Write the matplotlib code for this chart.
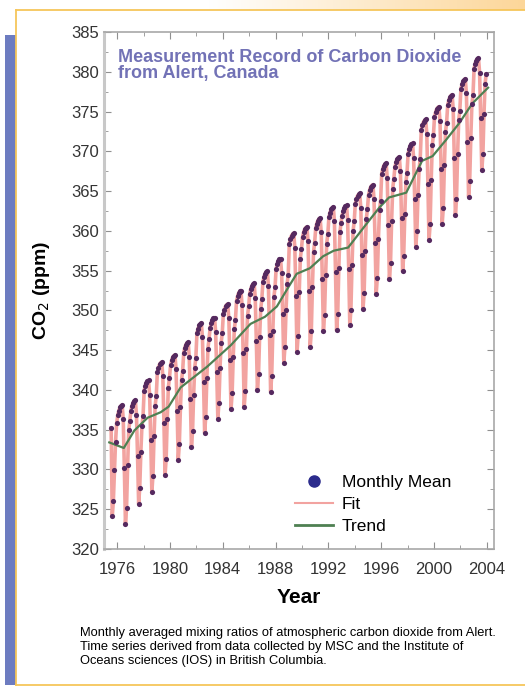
import matplotlib
matplotlib.use("Agg")
import matplotlib.pyplot as plt
from matplotlib.lines import Line2D
from matplotlib.patches import Rectangle
from matplotlib.ticker import MultipleLocator
import numpy as np

plt.rcParams['font.family'] = ['Liberation Sans', 'DejaVu Sans']

# monthly mean CO2 at Alert (ppm), first value = July 1975
first_month = 1975 + 6 / 12
monthly_co2 = [
    335.2, 324.1, 326.0, 329.9, 333.5, 335.8,                                        # 1975
    336.8, 337.4, 337.8, 338.0, 338.1, 336.3, 330.2, 323.2, 325.2, 330.6, 334.9, 336.1,  # 1976
    337.4, 338.0, 338.4, 338.6, 338.7, 336.9, 331.7, 325.7, 327.7, 332.2, 335.5, 336.7,  # 1977
    339.9, 340.5, 340.9, 341.1, 341.2, 339.4, 333.7, 327.2, 329.2, 334.2, 338.0, 339.2,  # 1978
    342.2, 342.8, 343.2, 343.4, 343.5, 341.7, 335.9, 329.3, 331.3, 336.4, 340.3, 341.5,  # 1979
    343.1, 343.7, 344.1, 344.3, 344.4, 342.6, 337.3, 331.2, 333.2, 337.8, 341.2, 342.4,  # 1980
    344.7, 345.3, 345.7, 345.9, 346.0, 344.2, 338.9, 332.8, 334.8, 339.4, 342.8, 344.0,  # 1981
    347.1, 347.7, 348.1, 348.3, 348.4, 346.6, 341.0, 334.6, 336.6, 341.5, 345.2, 346.4,  # 1982
    347.8, 348.4, 348.8, 349.0, 349.1, 347.3, 342.3, 336.4, 338.4, 342.8, 345.9, 347.1,  # 1983
    349.5, 350.1, 350.5, 350.7, 350.8, 349.0, 343.7, 337.6, 339.6, 344.2, 347.6, 348.8,  # 1984
    351.2, 351.8, 352.2, 352.4, 352.5, 350.7, 344.7, 337.9, 339.9, 345.2, 349.3, 350.5,  # 1985
    352.1, 352.7, 353.1, 353.3, 353.4, 351.6, 346.2, 340.0, 342.0, 346.7, 350.2, 351.4,  # 1986
    353.6, 354.2, 354.6, 354.8, 354.9, 353.1, 346.9, 339.8, 341.8, 347.4, 351.7, 352.9,  # 1987
    355.2, 355.8, 356.2, 356.4, 356.5, 354.7, 349.5, 343.4, 345.4, 350.0, 353.3, 354.5,  # 1988
    358.4, 359.0, 359.4, 359.6, 359.7, 357.9, 351.8, 344.8, 346.8, 352.3, 356.5, 357.7,  # 1989
    359.2, 359.8, 360.2, 360.4, 360.5, 358.7, 352.5, 345.4, 347.4, 353.0, 357.3, 358.5,  # 1990
    360.3, 360.9, 361.3, 361.5, 361.6, 359.8, 354.0, 347.4, 349.4, 354.5, 358.4, 359.6,  # 1991
    361.7, 362.3, 362.7, 362.9, 363.0, 361.2, 354.8, 347.5, 349.5, 355.3, 359.8, 361.0,  # 1992
    361.9, 362.5, 362.9, 363.1, 363.2, 361.4, 355.2, 348.1, 350.1, 355.7, 360.0, 361.2,  # 1993
    363.4, 364.0, 364.4, 364.6, 364.7, 362.9, 357.0, 350.2, 352.2, 357.5, 361.5, 362.7,  # 1994
    364.5, 365.1, 365.5, 365.7, 365.8, 364.0, 358.5, 352.1, 354.1, 359.0, 362.6, 363.8,  # 1995
    367.2, 367.8, 368.2, 368.4, 368.5, 366.7, 360.7, 353.9, 355.9, 361.2, 365.3, 366.5,  # 1996
    368.0, 368.6, 369.0, 369.2, 369.3, 367.5, 361.6, 354.9, 356.9, 362.1, 366.1, 367.3,  # 1997
    369.7, 370.3, 370.7, 370.9, 371.0, 369.2, 364.0, 358.0, 360.0, 364.5, 367.8, 369.0,  # 1998
    372.7, 373.3, 373.7, 373.9, 374.0, 372.2, 365.9, 358.8, 360.8, 366.4, 370.8, 372.0,  # 1999
    374.3, 374.9, 375.3, 375.5, 375.6, 373.8, 367.8, 360.9, 362.9, 368.3, 372.4, 373.6,  # 2000
    375.8, 376.4, 376.8, 377.0, 377.1, 375.3, 369.1, 362.0, 364.0, 369.6, 373.9, 375.1,  # 2001
    377.8, 378.4, 378.8, 379.0, 379.1, 377.3, 371.2, 364.3, 366.3, 371.7, 375.9, 377.1,  # 2002
    380.4, 381.0, 381.4, 381.6, 381.7, 379.9, 374.2, 367.6, 369.6, 374.7, 378.5, 379.7,  # 2003
]

trend_year = [1975.4, 1976.5, 1977.3, 1978.3, 1979.3, 1979.9, 1980.8, 1981.8, 1982.8,
              1983.8, 1984.6, 1985.1, 1986.1, 1987.2, 1988.1, 1989.0, 1989.6, 1990.6,
              1991.6, 1992.4, 1993.5, 1994.9, 1995.9, 1996.6, 1997.9, 1999.1, 1999.9,
              2000.9, 2001.9, 2002.9, 2004.1]
trend_ppm = [333.4, 332.7, 334.9, 336.5, 337.2, 337.9, 340.3, 341.6, 342.9,
             344.4, 345.6, 346.5, 348.3, 349.2, 350.5, 353.0, 354.6, 355.3,
             356.8, 357.5, 357.9, 360.9, 363.0, 364.2, 364.8, 368.8, 369.4,
             371.4, 373.5, 376.0, 378.0]

year_ticks = [1976, 1980, 1984, 1988, 1992, 1996, 2000, 2004]
ppm_ticks = list(range(320, 390, 5))

title_txt = "Measurement Record of Carbon Dioxide\nfrom Alert, Canada"
caption = ("Monthly averaged mixing ratios of atmospheric carbon dioxide from Alert.\n"
           "Time series derived from data collected by MSC and the Institute of\n"
           "Oceans sciences (IOS) in British Columbia.")

W, H = 525, 687
t = first_month + (np.arange(len(monthly_co2)) + 0.5) / 12

fig = plt.figure(figsize=(W / 100, H / 100), dpi=100)

# page decoration: top gradient band, frame and blue side bar
band = fig.add_axes([0, 1 - 10 / H, 1, 10 / H])
grad = np.clip((np.linspace(0, 1, 300) - 0.4) / 0.6, 0, 1)
rgb = np.array([1.0, 1.0, 1.0]) * (1 - grad[:, None]) + np.array([0.99, 0.84, 0.6]) * grad[:, None]
band.imshow(rgb[None, :, :], aspect='auto', extent=[0, 1, 0, 1])
band.axis('off')
fig.add_artist(Rectangle((5 / W, 1 - 685 / H), 11 / W, 650 / H, transform=fig.transFigure,
                         color='#6d7cc0', lw=0))
border = '#f6c65a'
fig.add_artist(Line2D([16 / W, 1], [1 - 10 / H] * 2, transform=fig.transFigure, color=border, lw=1.3))
fig.add_artist(Line2D([16 / W, 1], [1 - 685 / H] * 2, transform=fig.transFigure, color=border, lw=1.3))
fig.add_artist(Line2D([16 / W] * 2, [1 - 685 / H, 1 - 10 / H], transform=fig.transFigure, color=border, lw=1.3))

ax = fig.add_axes([104 / W, 1 - 549 / H, 390 / W, 517 / H])

ax.plot(t, monthly_co2, color='#f2a3a0', lw=2.6, zorder=2)
ax.plot(trend_year, trend_ppm, color='#4e8052', lw=1.6, zorder=3)
ax.scatter(t, monthly_co2, s=14, color='#55295f', lw=0, zorder=4)

ax.set_xlim(1975.0, 2004.55)
ax.set_ylim(320, 385)
ax.set_xticks(year_ticks)
ax.set_yticks(ppm_ticks)
ax.xaxis.set_minor_locator(MultipleLocator(2))
ax.yaxis.set_minor_locator(MultipleLocator(2.5))
ax.tick_params(which='both', direction='in', top=True, right=True, color='#909090')
ax.tick_params(which='major', length=5, labelsize=12, labelcolor='#333333')
ax.tick_params(axis='x', which='major', pad=9)
ax.tick_params(which='minor', length=3)
for s in ax.spines.values():
    s.set_color('#a8a8a8')
    s.set_linewidth(1.2)
ax.spines['left'].set_linewidth(2.2)
ax.spines['left'].set_color('#c8c8c8')

ax.set_xlabel('Year', fontsize=15, fontweight='bold', labelpad=8)
ax.set_ylabel('CO$_2$ (ppm)', fontsize=14, fontweight='bold', labelpad=14)

ax.text(0.035, 0.967, title_txt, transform=ax.transAxes, ha='left', va='top',
        fontsize=13, fontweight='bold', color='#7272b6', linespacing=0.92)

handles = [Line2D([], [], ls='none', marker='o', ms=8, color='#2b2b8c'),
           Line2D([], [], color='#f2a3a0', lw=1.5),
           Line2D([], [], color='#4e8052', lw=2)]
ax.legend(handles, ['Monthly Mean', 'Fit', 'Trend'], loc='lower right',
          bbox_to_anchor=(0.93, -0.001), frameon=False, fontsize=12.5,
          handlelength=2.2, labelspacing=0.4, handletextpad=0.5)

fig.text(80 / W, 1 - 627 / H, caption, ha='left', va='top', fontsize=9.3, linespacing=1.22)

fig.savefig('out.png', dpi=100)
